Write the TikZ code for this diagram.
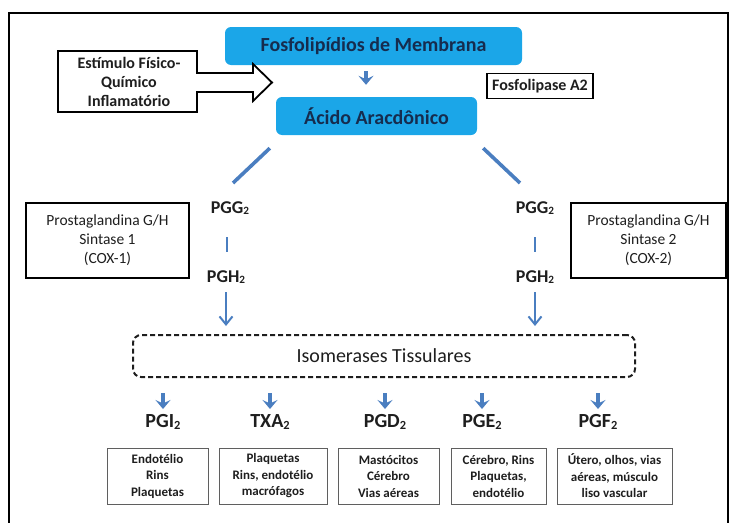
\documentclass[tikz,border=0pt]{standalone}
\usepackage{fontspec}
\usepackage{graphicx}
\setmainfont{Carlito}
\usetikzlibrary{arrows.meta}
\definecolor{boxblue}{RGB}{27,166,232}
\definecolor{navytext}{RGB}{22,44,78}
\definecolor{lineblue}{RGB}{74,126,192}
\definecolor{thingray}{RGB}{95,95,95}
\definecolor{textdark}{RGB}{30,30,30}
\newcommand\pgsubtwo{\raisebox{-0.06em}{\scalebox{0.62}{2}}}
\begin{document}
\begin{tikzpicture}[x=1pt,y=-1pt,
  bluebox/.style={fill=boxblue, rounded corners=6pt, minimum width=#1, minimum height=38pt,
    inner sep=0pt, text=navytext, font=\fontsize{20}{24}\selectfont\bfseries},
  blackbox/.style={draw=black, line width=1.8pt, inner sep=0pt, align=center, text=textdark},
  tissuebox/.style={draw=thingray, line width=0.9pt, minimum width=#1, minimum height=56pt,
    inner sep=0pt, align=center, text=textdark, font=\fontsize{13}{16.5}\selectfont\bfseries},
  pgtop/.style={inner sep=0pt, text=textdark, font=\fontsize{18}{20}\selectfont\bfseries},
  pgbot/.style={inner sep=0pt, text=textdark, font=\fontsize{20}{22}\selectfont\bfseries},
  smallarrow/.style={draw=lineblue, line width=3.2pt, -{Stealth[width=15pt,length=9pt,inset=3.5pt]}},
  longarrow/.style={draw=lineblue, line width=2pt, -{Straight Barb[width=13pt,length=8pt,line width=2pt]}},
  diagline/.style={draw=lineblue, line width=3.6pt},
  barline/.style={draw=lineblue, line width=2.6pt},
]
\useasboundingbox (0,0) rectangle (733,522);
% outer frame
\draw[line width=1.6pt] (9,524) -- (9,13) -- (728,13) -- (728,524);

% top blue boxes
\node[bluebox=297pt] (fosfo) at (373.5,46) {Fosfolipídios de Membrana};
\node[bluebox=201pt] (acido) at (376.5,116) {Ácido Aracdônico};
\draw[smallarrow] ([xshift=-7.5pt,yshift=-6pt]fosfo.south) -- ([xshift=-10.5pt,yshift=12pt]acido.north);

% stimulus block arrow
\draw[line width=1.8pt, line join=miter]
  (58,51) -- (197,51) -- (197,73) -- (253,73) -- (253,64) -- (272,82.5) -- (253,101) -- (253,92) -- (197,92) -- (197,112) -- (58,112) -- cycle;
\node[inner sep=0pt, align=center, text=textdark, font=\fontsize{16}{19}\selectfont\bfseries] (estim) at (129,82)
  {Estímulo Físico-\\Químico\\Inflamatório};

% Fosfolipase
\node[blackbox, minimum width=106pt, minimum height=25pt, font=\fontsize{16}{19}\selectfont\bfseries] (fla) at (540,86) {Fosfolipase A2};

% COX boxes
\node[blackbox, minimum width=163pt, minimum height=75pt, font=\fontsize{15.5}{19}\selectfont] (cox1) at (107.5,240.5)
  {Prostaglandina G/H\\Sintase 1\\(COX-1)};
\node[blackbox, minimum width=155pt, minimum height=75pt, font=\fontsize{15.5}{19}\selectfont] (cox2) at (648.5,240.5)
  {Prostaglandina G/H\\Sintase 2\\(COX-2)};

% PGG / PGH
\node[pgtop] (pggL) at (230,208) {PGG\pgsubtwo};
\node[pgtop] (pghL) at (226,277) {PGH\pgsubtwo};
\node[pgtop] (pggR) at (535,208) {PGG\pgsubtwo};
\node[pgtop] (pghR) at (535,277) {PGH\pgsubtwo};

\draw[diagline] ([xshift=-6pt,yshift=-13pt]acido.south west) -- ([xshift=3pt,yshift=25pt]pggL.center);
\draw[diagline] ([xshift=6pt,yshift=-13pt]acido.south east) -- ([xshift=-15pt,yshift=25pt]pggR.center);
\draw[barline] ([xshift=-3pt,yshift=-29pt]pggL.center) -- ([xshift=1pt,yshift=25pt]pghL.center);
\draw[barline] ([yshift=-29pt]pggR.center) -- ([yshift=25pt]pghR.center);

% isomerases
\node[draw=textdark, dashed, dash pattern=on 5pt off 3pt, line width=2pt, rounded corners=8pt,
  minimum width=502pt, minimum height=42pt, inner sep=0pt, text=textdark,
  font=\fontsize{20}{24}\selectfont] (iso) at (384,356) {Isomerases Tissulares};

\draw[longarrow, shorten >=8pt] ([yshift=-15pt]pghL.center) -- (pghL.center |- iso.north);
\draw[longarrow, shorten >=8pt] ([yshift=-15pt]pghR.center) -- (pghR.center |- iso.north);

% products
\node[pgbot] (pgi) at (163,422) {PGI\pgsubtwo};
\node[pgbot] (txa) at (270,422) {TXA\pgsubtwo};
\node[pgbot] (pgd) at (385,422) {PGD\pgsubtwo};
\node[pgbot] (pge) at (482,422) {PGE\pgsubtwo};
\node[pgbot] (pgf) at (598,422) {PGF\pgsubtwo};

\foreach \p in {pgi,txa,pgd,pge,pgf}{
  \draw[smallarrow, shorten <=15pt] (\p.center |- iso.south) -- ([yshift=13pt]\p.center);
}

% tissue boxes
\node[tissuebox=101pt] (t1) at (157.5,476) {Endotélio\\Rins\\Plaquetas};
\node[tissuebox=108pt] (t2) at (273,476) {Plaquetas\\Rins, endotélio\\macrófagos};
\node[tissuebox=101pt] (t3) at (388.5,476) {Mastócitos\\Cérebro\\Vias aéreas};
\node[tissuebox=95pt] (t4) at (498.5,476) {Cérebro, Rins\\Plaquetas,\\endotélio};
\node[tissuebox=115pt] (t5) at (614.5,476) {Útero, olhos, vias\\aéreas, músculo\\liso vascular};
\end{tikzpicture}
\end{document}
